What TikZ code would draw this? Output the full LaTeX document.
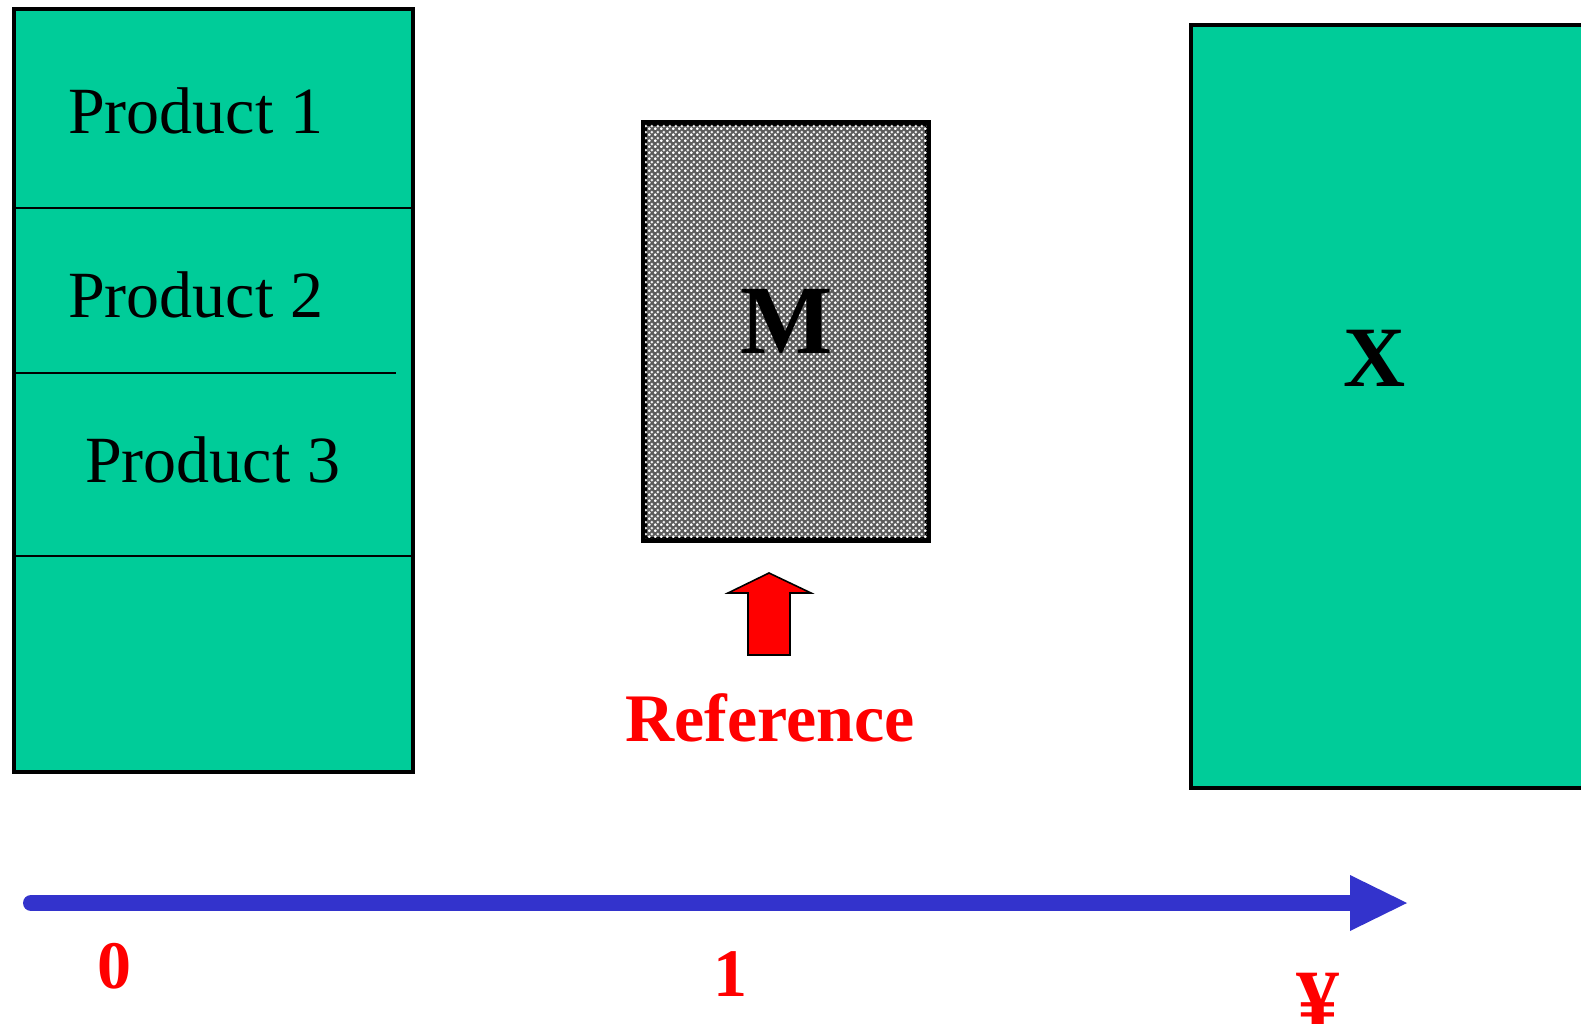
\documentclass[tikz,border=0pt]{standalone}
\usepackage{fontspec}
\setmainfont{Liberation Serif}
\usetikzlibrary{patterns}
\definecolor{boxgreen}{HTML}{00CC99}
\definecolor{axisblue}{HTML}{3333CC}
\definecolor{refred}{HTML}{FF0000}
\definecolor{mgray}{HTML}{5C5C5C}
\pgfdeclarepatternformonly{mcrosses}{\pgfqpoint{0pt}{0pt}}{\pgfqpoint{6pt}{6pt}}{\pgfqpoint{6pt}{6pt}}{%
  \pgfpathrectangle{\pgfqpoint{0pt}{0.8pt}}{\pgfqpoint{3pt}{1.4pt}}%
  \pgfpathrectangle{\pgfqpoint{0.8pt}{0pt}}{\pgfqpoint{1.4pt}{3pt}}%
  \pgfpathrectangle{\pgfqpoint{3pt}{3.8pt}}{\pgfqpoint{3pt}{1.4pt}}%
  \pgfpathrectangle{\pgfqpoint{3.8pt}{3pt}}{\pgfqpoint{1.4pt}{3pt}}%
  \pgfusepath{fill}}
\tikzset{
  greenbox/.style={draw=black, line width=4.5pt, fill=boxgreen, inner sep=0pt},
  divider/.style={draw=black, line width=1.8pt},
  prodtext/.style={anchor=base west, inner sep=0pt, font=\fontsize{66}{70}\selectfont},
  bigletter/.style={anchor=base, inner sep=0pt, font=\bfseries\fontsize{98}{100}\selectfont},
  redlabel/.style={anchor=base, inner sep=0pt, text=refred, font=\bfseries\fontsize{68}{72}\selectfont},
}
\begin{document}
\begin{tikzpicture}[x=1pt,y=-1pt]
\path[use as bounding box, clip] (0,0) rectangle (1581,1024);
\fill[white] (0,0) rectangle (1581,1024);

% left product box
\node[greenbox, minimum width=399pt, minimum height=763pt] (prod) at (213.5,390.5) {};
\coordinate (d1) at (16,208);
\coordinate (d2) at (16,373);
\coordinate (d3) at (16,556);
\draw[divider] (d1) -- (d1 -| prod.east);
\draw[divider] (d2) -- (396,373);
\draw[divider] (d3) -- (d3 -| prod.east);
\node[prodtext] (p1) at (68,134) {Product 1};
\node[prodtext] (p2) at (68,317) {Product 2};
\node[prodtext] (p3) at (85,482) {Product 3};

% M box
\node[draw=black, line width=4pt, fill=mgray, minimum width=282pt, minimum height=414pt, inner sep=0pt] (mbox) at (786,331.5) {};
\fill[pattern=mcrosses, pattern color=white] (mbox.south west) rectangle (mbox.north east);
\draw[line width=4pt] (mbox.south west) rectangle (mbox.north east);
\node[bigletter] (mtext) at (787,353) {M};

% X box
\node[greenbox, minimum width=520pt, minimum height=763pt] (xbox) at (1451,406.5) {};
\node[bigletter, font=\bfseries\fontsize{86}{90}\selectfont] (xtext) at (1375,386) {X};

% red up arrow
\coordinate (ra1) at (748,655);
\coordinate (ra2) at (748,593);
\coordinate (ra3) at (728,593);
\coordinate (ra4) at (769,573);
\coordinate (ra5) at (811,593);
\coordinate (ra6) at (790,593);
\coordinate (ra7) at (790,655);
\draw[line width=1.6pt, fill=refred, line join=miter] (ra1) -- (ra2) -- (ra3) -- (ra4) -- (ra5) -- (ra6) -- (ra7) -- cycle;
\node[redlabel] (ref) at (770,741) {Reference};

% axis
\coordinate (ax0) at (31,903);
\coordinate (ax1) at (1352,903);
\coordinate (tipA) at (1350,875);
\coordinate (tipB) at (1407,903);
\coordinate (tipC) at (1350,931);
\draw[axisblue, line width=16pt, line cap=round] (ax0) -- (ax1);
\fill[axisblue] (tipA) -- (tipB) -- (tipC) -- cycle;

\node[redlabel] (l0) at (114,988) {0};
\node[redlabel] (l1) at (730,996) {1};
\node[redlabel, font=\bfseries\fontsize{86}{90}\selectfont] (lyen) at (1318,1029) {¥};
\end{tikzpicture}
\end{document}
